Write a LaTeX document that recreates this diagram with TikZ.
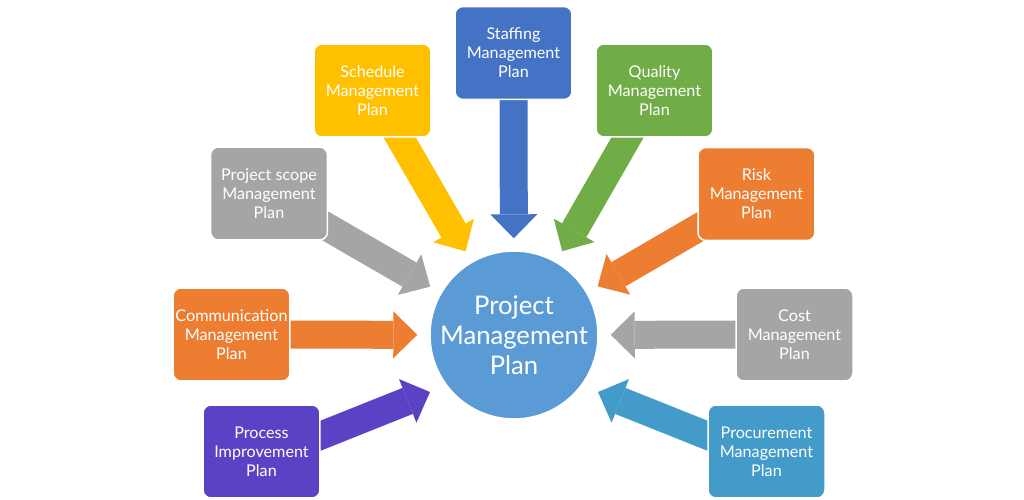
\documentclass[tikz,border=0pt]{standalone}
\usepackage{fontspec}
\setmainfont{Lato}
\usepackage{tikz}
\usetikzlibrary{arrows.meta,backgrounds}
\usepackage{xcolor}

\definecolor{pmblue}{HTML}{4472C4}
\definecolor{pmyellow}{HTML}{FFC000}
\definecolor{pmgreen}{HTML}{70AD47}
\definecolor{pmgray}{HTML}{A5A5A5}
\definecolor{pmorange}{HTML}{ED7D31}
\definecolor{pmpurple}{HTML}{5B41C3}
\definecolor{pmteal}{HTML}{429BC8}
\definecolor{pmcircle}{HTML}{5B9BD5}

\tikzset{
  plan/.style={draw=white, line width=0.03cm, fill=#1, text=white, align=center,
    rounded corners=0.16cm, minimum width=2.34cm, minimum height=1.86cm,
    inner sep=0pt, font=\fontsize{9.2}{10.8}\selectfont},
  feed/.style={draw=#1, line width=0.56cm,
    -{Triangle[length=0.48cm, width=0.94cm, line width=0pt]},
    shorten >=0.24cm, shorten <=-0.2cm}
}

\begin{document}
\begin{tikzpicture}[x=0.02cm, y=-0.02cm]
  \useasboundingbox (0,0) rectangle (1024,500);

  \node[circle, fill=pmcircle, draw=white, line width=0.03cm, text=white, align=center,
    minimum size=3.36cm, inner sep=0pt, font=\fontsize{14.6}{17}\selectfont]
    (PMP) at (514,335) {Project\\Management\\Plan};

  \node[plan=pmblue] (StMa) at (513.5,53) {Staffing\\Management\\Plan};
  \node[plan=pmyellow] (ScMa) at (372.5,90.5) {Schedule\\Management\\Plan};
  \node[plan=pmgreen] (QuMa) at (654.5,90.5) {Quality\\Management\\Plan};
  \node[plan=pmgray] (PsMa) at (269,193.5) {Project scope\\Management\\Plan};
  \node[plan=pmorange] (RiMa) at (756.5,194) {Risk\\Management\\Plan};
  \node[plan=pmorange] (CoMa) at (231.5,334.5) {Communication\\Management\\Plan};
  \node[plan=pmgray] (CsMa) at (794.5,334.5) {Cost\\Management\\Plan};
  \node[plan=pmpurple] (PrIm) at (261.5,451.5) {Process\\Improvement\\Plan};
  \node[plan=pmteal] (PcMa) at (766.5,451.5) {Procurement\\Management\\Plan};

  % tips of the two lower arrows
  \coordinate (PrTip) at (430,392);
  \coordinate (PcTip) at (598,392);

  \begin{pgfonlayer}{background}
    \draw[feed=pmblue] (StMa) to (PMP);
    \draw[feed=pmyellow] (ScMa) to (PMP);
    \draw[feed=pmgreen] (QuMa) to (PMP);
    \draw[feed=pmgray] (PsMa) to (PMP);
    \draw[feed=pmorange] (RiMa) to (PMP);
    \draw[feed=pmorange] (CoMa) to (PMP);
    \draw[feed=pmgray] (CsMa) to (PMP);
    \draw[feed=pmpurple, shorten >=0pt] (PrIm.15) to (PrTip);
    \draw[feed=pmteal, shorten >=0pt] (PcMa.165) to (PcTip);
  \end{pgfonlayer}

\end{tikzpicture}
\end{document}
